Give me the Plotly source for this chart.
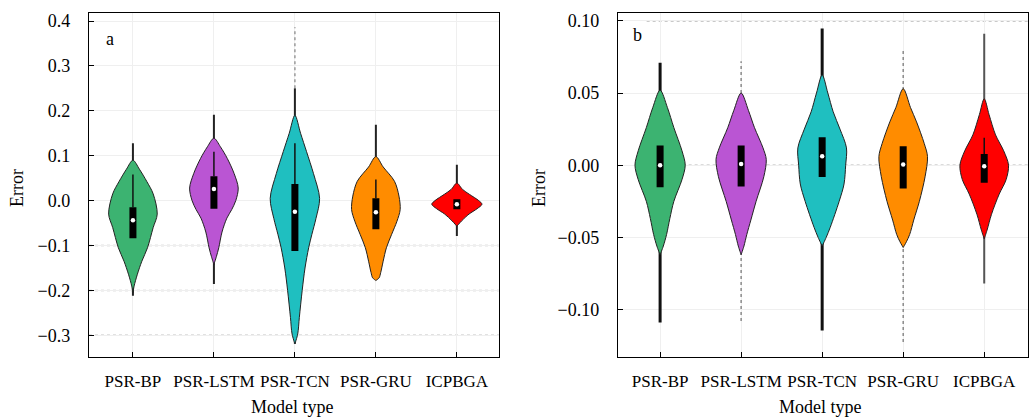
import plotly.graph_objects as go

MODELS = ["PSR-BP", "PSR-LSTM", "PSR-TCN", "PSR-GRU", "ICPBGA"]
COLORS = ["#3CB371", "#BA55D3", "#1FBFC0", "#FF8C00", "#FF0000"]

# ---- panel a: density profiles (error level -> half width of violin) ----
A_LEVELS = [
    [0.090, 0.070, 0.043, 0.015, -0.030, -0.060, -0.105, -0.135, -0.164, -0.190, -0.205],
    [0.139, 0.120, 0.094, 0.060, 0.028, 0.000, -0.020, -0.039, -0.070, -0.105, -0.125, -0.142],
    [0.190, 0.150, 0.109, 0.060, 0.005, -0.040, -0.075, -0.105, -0.150, -0.200, -0.260, -0.297, -0.319],
    [0.098, 0.075, 0.043, 0.010, -0.020, -0.046, -0.075, -0.105, -0.135, -0.160, -0.172, -0.178],
    [0.039, 0.025, 0.014, 0.000, -0.008, -0.018, -0.030, -0.045, -0.057],
]
A_HALF = [
    [0.0, 0.08, 0.17, 0.25, 0.30, 0.25, 0.18, 0.11, 0.055, 0.015, 0.0],
    [0.0, 0.08, 0.165, 0.25, 0.30, 0.27, 0.22, 0.16, 0.10, 0.06, 0.03, 0.0],
    [0.0, 0.07, 0.144, 0.23, 0.305, 0.26, 0.21, 0.17, 0.125, 0.09, 0.055, 0.035, 0.0],
    [0.0, 0.09, 0.23, 0.285, 0.30, 0.26, 0.195, 0.13, 0.09, 0.06, 0.04, 0.0],
    [0.0, 0.07, 0.155, 0.27, 0.31, 0.25, 0.15, 0.06, 0.0],
]
A_Q1 = [-0.084, -0.018, -0.112, -0.064, -0.019]
A_Q3 = [-0.015, 0.054, 0.037, 0.005, 0.003]
A_MED = [-0.044, 0.026, -0.025, -0.026, -0.008]
A_WHI = [0.058, 0.109, 0.128, 0.047, 0.003]
A_MIN = [-0.212, -0.186, -0.319, -0.175, -0.079]
A_DENSE_MAX = [0.128, 0.191, 0.250, 0.169, 0.080]
A_MAX = [0.128, 0.191, 0.386, 0.169, 0.080]
A_GUIDES = [-0.1, -0.2, -0.3]

# ---- panel b ----
B_LEVELS = [
    [0.052, 0.040, 0.026, 0.010, 0.000, -0.010, -0.025, -0.037, -0.048, -0.056, -0.062],
    [0.050, 0.038, 0.026, 0.012, 0.004, -0.008, -0.025, -0.038, -0.048, -0.056, -0.062],
    [0.0625, 0.050, 0.037, 0.025, 0.012, 0.000, -0.013, -0.025, -0.043, -0.050, -0.056],
    [0.053, 0.040, 0.030, 0.015, 0.006, -0.008, -0.025, -0.038, -0.048, -0.053, -0.057],
    [0.046, 0.035, 0.021, 0.010, 0.000, -0.010, -0.020, -0.034, -0.045, -0.051],
]
B_HALF = [
    [0.0, 0.09, 0.17, 0.27, 0.31, 0.27, 0.17, 0.12, 0.08, 0.04, 0.0],
    [0.0, 0.09, 0.165, 0.27, 0.31, 0.28, 0.185, 0.12, 0.07, 0.035, 0.0],
    [0.0, 0.07, 0.136, 0.22, 0.30, 0.29, 0.27, 0.21, 0.10, 0.05, 0.0],
    [0.0, 0.09, 0.165, 0.26, 0.30, 0.27, 0.20, 0.13, 0.08, 0.04, 0.0],
    [0.0, 0.06, 0.14, 0.24, 0.30, 0.27, 0.185, 0.09, 0.035, 0.0],
]
B_Q1 = [-0.0152, -0.0147, -0.0081, -0.0161, -0.0122]
B_Q3 = [0.0136, 0.0136, 0.0193, 0.0131, 0.0078]
B_MED = [0.0000, 0.0009, 0.0062, 0.0005, -0.0007]
B_WHI = [0.0136, 0.0136, 0.0193, 0.0131, 0.0190]
B_MIN = [-0.109, -0.108, -0.1145, -0.1225, -0.082]
B_DENSE_MAX = [0.071, 0.072, 0.0947, 0.080, 0.091]
B_MAX = [0.071, 0.072, 0.0947, 0.080, 0.091]
B_GUIDES = [0.10, 0.0]

# tail line styles (colour, width, dash) per model
A_TAIL_STYLE = [("#222222", 2, "solid")] * 5
B_TAIL_STYLE = [
    ("#111111", 3, "solid"),
    ("#8a8a8a", 1.5, "dot"),
    ("#111111", 3, "solid"),
    ("#8a8a8a", 1.5, "dot"),
    ("#555555", 2, "solid"),
]

FONT = "Liberation Serif, Times New Roman, serif"

fig = go.Figure()


def add_panel(col, levels, halves, q1, q3, med, whi, vmin, dense_max, vmax, tail_style):
    xa = "x" if col == 1 else "x2"
    ya = "y" if col == 1 else "y2"
    for i in range(len(MODELS)):
        c, w, d = tail_style[i]
        # long tails of the distribution
        fig.add_trace(go.Scatter(x=[i, i], y=[vmin[i], dense_max[i]], mode="lines",
                                 line=dict(color=c, width=w, dash=d),
                                 xaxis=xa, yaxis=ya, hoverinfo="skip"))
        if vmax[i] > dense_max[i]:
            fig.add_trace(go.Scatter(x=[i, i], y=[dense_max[i], vmax[i]], mode="lines",
                                     line=dict(color="#9a9a9a", width=1.5, dash="dot"),
                                     xaxis=xa, yaxis=ya, hoverinfo="skip"))
        # violin body
        lv = levels[i]
        hw = halves[i]
        xs = [i + h for h in hw] + [i - h for h in reversed(hw)]
        ys = list(lv) + list(reversed(lv))
        fig.add_trace(go.Scatter(x=xs, y=ys, mode="lines", fill="toself",
                                 fillcolor=COLORS[i],
                                 line=dict(color="#222222", width=1, shape="spline", smoothing=0.9),
                                 xaxis=xa, yaxis=ya, hoverinfo="skip"))
        # whisker
        fig.add_trace(go.Scatter(x=[i, i], y=[q3[i], whi[i]], mode="lines",
                                 line=dict(color="#111111", width=1.5),
                                 xaxis=xa, yaxis=ya, hoverinfo="skip"))
        # interquartile box
        fig.add_trace(go.Scatter(x=[i, i], y=[q1[i], q3[i]], mode="lines",
                                 line=dict(color="#000000", width=7),
                                 xaxis=xa, yaxis=ya, hoverinfo="skip"))
        # median
        fig.add_trace(go.Scatter(x=[i], y=[med[i]], mode="markers",
                                 marker=dict(color="white", size=4.5),
                                 xaxis=xa, yaxis=ya, hoverinfo="skip"))


add_panel(1, A_LEVELS, A_HALF, A_Q1, A_Q3, A_MED, A_WHI, A_MIN, A_DENSE_MAX, A_MAX, A_TAIL_STYLE)
add_panel(2, B_LEVELS, B_HALF, B_Q1, B_Q3, B_MED, B_WHI, B_MIN, B_DENSE_MAX, B_MAX, B_TAIL_STYLE)

# reference guide lines
for g in A_GUIDES:
    fig.add_shape(type="line", xref="x domain", yref="y", x0=0, x1=1, y0=g, y1=g,
                  line=dict(color="#c4c4c4", width=1.5, dash="dot"), layer="below")
for g in B_GUIDES:
    fig.add_shape(type="line", xref="x2 domain", yref="y2", x0=0.07, x1=1, y0=g, y1=g,
                  line=dict(color="#b8b8b8", width=1.5, dash="dot"), layer="below")

axis_common = dict(
    showline=True, mirror=True, linecolor="black", linewidth=1.3,
    ticks="inside", ticklen=5, tickcolor="black", tickwidth=1.3,
    showgrid=True, gridcolor="#efefef", gridwidth=1, zeroline=False,
)

tick_font = dict(family=FONT, size=18, color="black")
cat_font = dict(family=FONT, size=17, color="black")

fig.update_layout(
    width=1032, height=418,
    margin=dict(l=0, r=0, t=0, b=0),
    paper_bgcolor="white", plot_bgcolor="white",
    showlegend=False,
    font=dict(family=FONT, size=18, color="black"),
    xaxis=dict(domain=[0.0862, 0.4835], range=[-0.543, 4.52], tickangle=0,
               tickvals=list(range(5)), ticktext=MODELS, anchor="y", tickfont=cat_font,
               ticklabelstandoff=8, **axis_common),
    yaxis=dict(domain=[0.1459, 0.9737], range=[-0.349, 0.418], tickfont=tick_font,
               tickvals=[-0.3, -0.2, -0.1, 0.0, 0.1, 0.2, 0.3, 0.4], tickformat=".1f",
               anchor="x", ticklabelstandoff=14, **axis_common),
    xaxis2=dict(domain=[0.5988, 0.9961], range=[-0.52, 4.54], tickangle=0,
                tickvals=list(range(5)), ticktext=MODELS, anchor="y2", tickfont=cat_font,
                ticklabelstandoff=8, **axis_common),
    yaxis2=dict(domain=[0.1459, 0.9737], range=[-0.1331, 0.1055], tickfont=tick_font,
                tickvals=[-0.10, -0.05, 0.0, 0.05, 0.10], tickformat=".2f",
                anchor="x2", ticklabelstandoff=14, **axis_common),
)

ann_font = dict(family=FONT, size=18, color="black")
annotations = [
    dict(text="a", x=110, y=418 - 37),
    dict(text="b", x=637, y=418 - 33),
    dict(text="Model type", x=292, y=418 - 407),
    dict(text="Model type", x=820, y=418 - 407),
]
for a in annotations:
    fig.add_annotation(text=a["text"], x=a["x"] / 1032, y=a["y"] / 418, xref="paper", yref="paper",
                       showarrow=False, font=ann_font, xanchor="center", yanchor="middle")
for xc in (17, 539):
    fig.add_annotation(text="Error", x=xc / 1032, y=(418 - 187) / 418, xref="paper", yref="paper",
                       showarrow=False, font=ann_font, textangle=-90,
                       xanchor="center", yanchor="middle")

fig.write_html("out.html")
